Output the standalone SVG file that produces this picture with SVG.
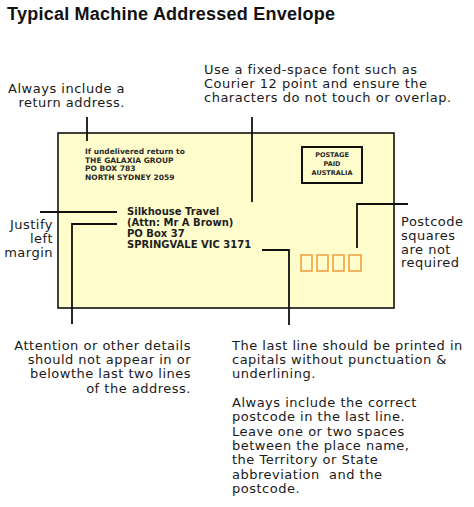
<svg xmlns="http://www.w3.org/2000/svg" width="474" height="507" viewBox="0 0 474 507">
<style>
.lbl{font-family:"DejaVu Sans",Verdana,sans-serif;font-size:13px;letter-spacing:0.5px;fill:#1a1a1a}
.ret{font-family:"DejaVu Sans","Liberation Sans",sans-serif;font-weight:bold;font-size:7.5px;fill:#2a2a2a}
.addr{font-family:"DejaVu Sans","Liberation Sans",sans-serif;font-weight:bold;font-size:10px;fill:#1e1e1e}
.stamp{font-family:"DejaVu Sans","Liberation Sans",sans-serif;font-weight:bold;font-size:6.5px;fill:#2a2a2a}
.conn{fill:none;stroke:#111;stroke-width:1.8}
.sq{fill:none;stroke:#EE9A3A;stroke-width:1.5}
</style>
<rect width="474" height="507" fill="#ffffff"/>
<text id="title" x="7" y="20" textLength="328" lengthAdjust="spacing" style="font-family:'Liberation Sans',Arial,sans-serif;font-weight:bold;font-size:18px;fill:#111">Typical Machine Addressed Envelope</text>

<g id="envelope">
<rect x="58" y="133" width="336" height="175" fill="#FFFDCC" stroke="#111" stroke-width="1.6"/>
</g>

<g id="return-address">
<text class="ret" x="85" y="154">If undelivered return to</text>
<text class="ret" x="85" y="162.5">THE GALAXIA GROUP</text>
<text class="ret" x="85" y="171">PO BOX 783</text>
<text class="ret" x="85" y="179.5">NORTH SYDNEY 2059</text>
</g>

<g id="postage">
<rect x="302" y="147" width="60" height="36" fill="none" stroke="#111" stroke-width="2"/>
<text class="stamp" x="332" y="157" text-anchor="middle">POSTAGE</text>
<text class="stamp" x="332" y="166" text-anchor="middle">PAID</text>
<text class="stamp" x="332" y="175" text-anchor="middle">AUSTRALIA</text>
</g>

<g id="address">
<text class="addr" x="127" y="215">Silkhouse Travel</text>
<text class="addr" x="127" y="226">(Attn: Mr A Brown)</text>
<text class="addr" x="127" y="237">PO Box 37</text>
<text class="addr" x="127" y="247.5">SPRINGVALE VIC 3171</text>
</g>

<g id="postcode-squares">
<rect class="sq" x="301" y="255" width="11" height="16"/>
<rect class="sq" x="317" y="255" width="11" height="16"/>
<rect class="sq" x="333" y="255" width="11" height="16"/>
<rect class="sq" x="349" y="255" width="12" height="16"/>
</g>

<g id="connectors">
<path class="conn" d="M87,117 V141"/>
<path class="conn" d="M252,117 V202"/>
<path class="conn" d="M40,212 H117"/>
<path class="conn" d="M117,224 H72 V324"/>
<path class="conn" d="M262,250 H289 V325"/>
<path class="conn" d="M357,248 V204 H408"/>
</g>

<g id="note-return">
<text class="lbl" x="125" y="93" text-anchor="end">Always include a</text>
<text class="lbl" x="125" y="106.5" text-anchor="end">return address.</text>
</g>

<g id="note-font">
<text class="lbl" x="204" y="74">Use a fixed-space font such as</text>
<text class="lbl" x="204" y="88">Courier 12 point and ensure the</text>
<text class="lbl" x="204" y="102">characters do not touch or overlap.</text>
</g>

<g id="note-justify">
<text class="lbl" x="53" y="229" text-anchor="end">Justify</text>
<text class="lbl" x="53" y="243" text-anchor="end">left</text>
<text class="lbl" x="53" y="257" text-anchor="end">margin</text>
</g>

<g id="note-postcode">
<text class="lbl" x="401" y="226">Postcode</text>
<text class="lbl" x="401" y="240">squares</text>
<text class="lbl" x="401" y="253.5">are not</text>
<text class="lbl" x="401" y="267">required</text>
</g>

<g id="note-attention">
<text class="lbl" x="191" y="350" text-anchor="end">Attention or other details</text>
<text class="lbl" x="191" y="364" text-anchor="end">should not appear in or</text>
<text class="lbl" x="191" y="378" text-anchor="end">belowthe last two lines</text>
<text class="lbl" x="191" y="392.5" text-anchor="end">of the address.</text>
</g>

<g id="note-lastline">
<text class="lbl" x="232" y="350">The last line should be printed in</text>
<text class="lbl" x="232" y="364">capitals without punctuation &amp;</text>
<text class="lbl" x="232" y="378">underlining.</text>
<text class="lbl" x="232" y="407">Always include the correct</text>
<text class="lbl" x="232" y="421">postcode in the last line.</text>
<text class="lbl" x="232" y="435.5">Leave one or two spaces</text>
<text class="lbl" x="232" y="450">between the place name,</text>
<text class="lbl" x="232" y="464">the Territory or State</text>
<text class="lbl" x="232" y="478.5" xml:space="preserve">abbreviation  and the</text>
<text class="lbl" x="232" y="492.5">postcode.</text>
</g>
</svg>
